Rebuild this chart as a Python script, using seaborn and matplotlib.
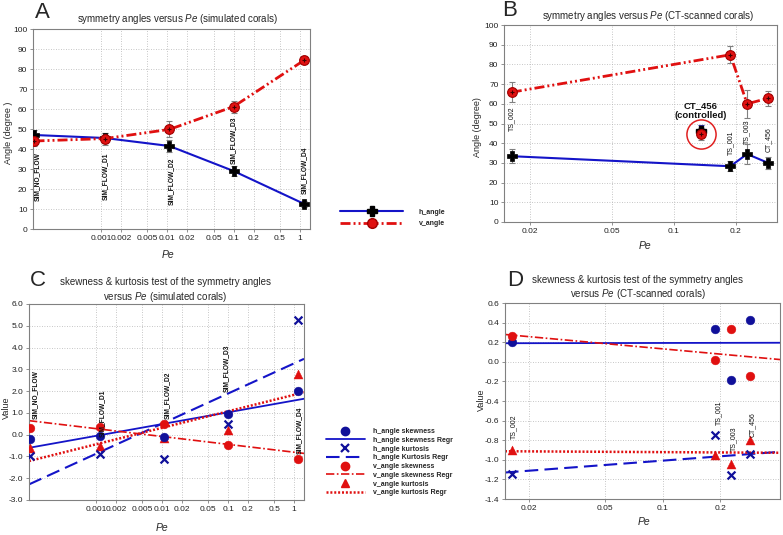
import numpy as np
import pandas as pd
import matplotlib
matplotlib.use("Agg")
import matplotlib.pyplot as plt
import seaborn as sns
from matplotlib.lines import Line2D
from matplotlib.ticker import NullLocator
from matplotlib.font_manager import FontProperties

# ---------------- data ----------------
sim_names = ["SIM_NO_FLOW", "SIM_FLOW_D1", "SIM_FLOW_D2", "SIM_FLOW_D3", "SIM_FLOW_D4"]
sim_pe = [0.0001, 0.00115, 0.0108, 0.1, 1.15]
sim_h_angle = [47.0, 45.5, 41.5, 29.0, 12.6]
sim_h_err = [2.5, 2.5, 3.0, 2.5, 1.5]
sim_v_angle = [44.0, 45.2, 49.8, 61.2, 84.3]
sim_v_err = [2.5, 3.0, 4.0, 3.0, 2.0]

ct_names = ["TS_002", "TS_001", "TS_003", "CT_456"]
ct_pe = [0.0163, 0.188, 0.227, 0.287]
ct_h_angle = [33.4, 28.3, 34.5, 30.0]
ct_h_err = [3.5, 2.5, 5.0, 3.2]
ct_v_angle = [65.9, 84.9, 60.0, 62.8]
ct_v_err = [5.0, 4.4, 7.0, 3.7]

ctrl_name = "CT_456\n(controlled)"
ctrl_pe = [0.1356]
ctrl_h_angle = [46.0]
ctrl_h_err = [3.0]
ctrl_v_angle = [44.5]
ctrl_v_err = [3.0]

sim_h_skew = [-0.21, -0.08, -0.12, 0.93, 2.00]
sim_h_kurt = [-0.96, -0.90, -1.13, 0.48, 5.27]
sim_v_skew = [0.29, 0.34, 0.48, -0.47, -1.12]
sim_v_kurt = [-0.63, -0.52, -0.15, 0.21, 2.79]

ct_h_skew = [0.20, 0.335, -0.19, 0.425]
ct_h_kurt = [-1.14, -0.75, -1.16, -0.94]
ct_v_skew = [0.26, 0.02, 0.335, -0.14]
ct_v_kurt = [-0.90, -0.95, -1.04, -0.80]

sim_ticks = [0.001, 0.002, 0.005, 0.01, 0.02, 0.05, 0.1, 0.2, 0.5, 1]
sim_tick_labels = ["0.001", "0.002", "0.005", "0.01", "0.02", "0.05", "0.1", "0.2", "0.5", "1"]
ct_ticks = [0.02, 0.05, 0.1, 0.2]
ct_tick_labels = ["0.02", "0.05", "0.1", "0.2"]
angle_ticks = list(range(0, 101, 10))
c_ticks = [-3, -2, -1, 0, 1, 2, 3, 4, 5, 6]
c_tick_labels = ["-3.0", "-2.0", "-1.0", "0.0", "1.0", "2.0", "3.0", "4.0", "5.0", "6.0"]
d_ticks = [-1.4, -1.2, -1.0, -0.8, -0.6, -0.4, -0.2, 0.0, 0.2, 0.4, 0.6]
d_tick_labels = ["-1.4", "-1.2", "-1.0", "-0.8", "-0.6", "-0.4", "-0.2", "0.0", "0.2", "0.4", "0.6"]

legendA_labels = ["h_angle", "v_angle"]
legendC_labels = ["h_angle skewness", "h_angle skewness Regr", "h_angle kurtosis",
                  "h_angle Kurtosis Regr", "v_angle skewness", "v_angle skewness Regr",
                  "v_angle kurtosis", "v_angle kurtosis Regr"]

# label placement (layout: top of rotated text, in data units)
labA_top = [38.6, 38.0, 35.5, 56.0, 41.0]
labA_dx = [3.0, 1.0, 2.0, 0.0, 0.3]
labB_top = [58.7, 46.5, 52.0, 48.0]
labC_top = [2.97, 2.05, 2.88, 4.12, 1.28]
labC_dx = [5.0, 2.0, 2.5, -1.5, 1.2]
labD_top = [-0.54, -0.39, -0.66, -0.51]

# ---------------- style ----------------
sns.set_theme(style="white")
plt.rcParams["font.family"] = ["Liberation Sans", "DejaVu Sans"]
plt.rcParams["mathtext.fontset"] = "custom"
plt.rcParams["mathtext.rm"] = "Liberation Sans"
plt.rcParams["mathtext.it"] = "Liberation Sans:italic"

BLUE = "#1414c8"
RED = "#e01010"
DRED = "#a00000"
DBLUE = "#10109a"
GRAY = "#808080"
TICK_FS = 6
DDOT = (0, (3.6, 1.1, 0.7, 1.1, 0.7, 1.1))

W, H = 783, 535
fig = plt.figure(figsize=(W / 100, H / 100), dpi=100)


def box(l, r, t, b):
    return [l / W, 1 - b / H, (r - l) / W, (b - t) / H]


axA = fig.add_axes(box(33, 310, 29, 229))
axB = fig.add_axes(box(504, 777, 25, 222))
axC = fig.add_axes(box(29, 304, 304, 500))
axD = fig.add_axes(box(505, 780, 303, 499))


def style_ax(ax, xlim, xt, xtl, ylim, yt, ytl):
    ax.set_xscale("log")
    ax.set_xlim(*xlim)
    ax.set_xticks(xt, xtl)
    ax.xaxis.set_minor_locator(NullLocator())
    ax.set_ylim(*ylim)
    ax.set_yticks(yt, ytl)
    for s in ax.spines.values():
        s.set_color(GRAY)
        s.set_linewidth(0.8)
    ax.tick_params(axis="both", which="major", labelsize=TICK_FS, length=2.5,
                   width=0.6, color=GRAY, pad=1.5, bottom=True, left=True,
                   labelcolor="#222222")
    ax.grid(True, which="major", color="#b4b4b4", linestyle=(0, (1, 2)), linewidth=0.6)
    ax.set_axisbelow(True)


style_ax(axA, (0.000095, 1.42), sim_ticks, sim_tick_labels, (0, 100), angle_ticks,
         [str(v) for v in angle_ticks])
style_ax(axB, (0.01494, 0.317), ct_ticks, ct_tick_labels, (0, 100), angle_ticks,
         [str(v) for v in angle_ticks])
style_ax(axC, (0.000095, 1.42), sim_ticks, sim_tick_labels, (-3, 6), c_ticks, c_tick_labels)
style_ax(axD, (0.0150, 0.41), ct_ticks, ct_tick_labels, (-1.4, 0.6), d_ticks, d_tick_labels)


def angle_panel(ax, pe, h, he, v, ve):
    ax.errorbar(pe, h, yerr=he, fmt="none", ecolor=GRAY, elinewidth=0.8,
                capsize=2.5, capthick=0.8, zorder=2)
    ax.errorbar(pe, v, yerr=ve, fmt="none", ecolor=GRAY, elinewidth=0.8,
                capsize=2.5, capthick=0.8, zorder=2)
    sns.lineplot(x=pe, y=h, ax=ax, color=BLUE, lw=1.5, marker="P", markersize=7.5,
                 markerfacecolor="black", markeredgecolor="black", markeredgewidth=0.5,
                 errorbar=None, zorder=3)
    sns.lineplot(x=pe, y=v, ax=ax, color=RED, lw=2, linestyle=DDOT, marker="o",
                 markersize=7, markerfacecolor=RED, markeredgecolor=DRED,
                 markeredgewidth=0.8, errorbar=None, zorder=4)
    ax.plot(pe, v, ls="none", marker="+", ms=3.5, mew=0.8, color="#400000", zorder=5)


angle_panel(axA, sim_pe, sim_h_angle, sim_h_err, sim_v_angle, sim_v_err)
angle_panel(axB, ct_pe, ct_h_angle, ct_h_err, ct_v_angle, ct_v_err)

# controlled coral in B
axB.errorbar(ctrl_pe, ctrl_h_angle, yerr=ctrl_h_err, fmt="none", ecolor="#3030a0",
             elinewidth=0.8, capsize=2.5, capthick=0.8, zorder=2)
axB.errorbar(ctrl_pe, ctrl_v_angle, yerr=ctrl_v_err, fmt="none", ecolor=GRAY,
             elinewidth=0.8, capsize=2.5, capthick=0.8, zorder=2)
axB.plot(ctrl_pe, ctrl_h_angle, ls="none", marker="P", ms=7.5, color="black", zorder=3)
axB.plot(ctrl_pe, ctrl_v_angle, ls="none", marker="o", ms=7, mfc=RED, mec=DRED,
         mew=0.8, zorder=4)
axB.plot(ctrl_pe, ctrl_v_angle, ls="none", marker="+", ms=3.5, mew=0.8,
         color="#400000", zorder=5)
axB.plot(ctrl_pe, ctrl_v_angle, ls="none", marker="o", ms=21, mfc="none",
         mec="#e02020", mew=1.1, zorder=5)
axB.text(ctrl_pe[0], 56.5, ctrl_name, ha="center", va="center", fontsize=6.8,
         fontweight="bold", linespacing=1.15, color="#111111")


def stat_panel(ax, pe, hs, hk, vs, vk):
    sns.regplot(x=pe, y=hs, ax=ax, scatter=False, logx=True, ci=None, truncate=False,
                color=BLUE, line_kws=dict(lw=1.3, ls="-", zorder=2))
    sns.regplot(x=pe, y=hk, ax=ax, scatter=False, logx=True, ci=None, truncate=False,
                color=BLUE, line_kws=dict(lw=1.5, ls=(0, (6.5, 3)), zorder=2))
    sns.regplot(x=pe, y=vs, ax=ax, scatter=False, logx=True, ci=None, truncate=False,
                color=RED, line_kws=dict(lw=1.2, ls=(0, (5, 1.5, 1, 1.5)), zorder=2))
    sns.regplot(x=pe, y=vk, ax=ax, scatter=False, logx=True, ci=None, truncate=False,
                color=RED, line_kws=dict(lw=1.8, ls=(0, (0.8, 0.75)), zorder=2))
    sns.scatterplot(x=pe, y=vk, ax=ax, marker="^", s=42, color=RED, edgecolor=RED,
                    linewidth=0.3, zorder=3)
    sns.scatterplot(x=pe, y=hs, ax=ax, marker="o", s=40, color=DBLUE, edgecolor=DBLUE,
                    linewidth=0.3, zorder=4)
    sns.scatterplot(x=pe, y=hk, ax=ax, marker="x", s=32, color=DBLUE, linewidth=1.6,
                    zorder=4)
    sns.scatterplot(x=pe, y=vs, ax=ax, marker="o", s=40, color=RED, edgecolor=RED,
                    linewidth=0.3, zorder=5)


stat_panel(axC, sim_pe, sim_h_skew, sim_h_kurt, sim_v_skew, sim_v_kurt)
stat_panel(axD, ct_pe, ct_h_skew, ct_h_kurt, ct_v_skew, ct_v_kurt)

# restore limits after regplot
axC.set_xlim(0.000095, 1.42)
axD.set_xlim(0.0150, 0.41)
axC.set_ylim(-3, 6)
axD.set_ylim(-1.4, 0.6)


# ---------------- point labels ----------------
def point_labels(ax, names, pe, tops, dxs, fs, weight):
    for n, x, t, dx in zip(names, pe, tops, dxs):
        ax.annotate(n, (x, t), xytext=(dx * 0.72, 0), textcoords="offset points",
                    rotation=90, ha="center", va="top", fontsize=fs,
                    fontweight=weight, color="#111111", zorder=6)


point_labels(axA, sim_names, sim_pe, labA_top, labA_dx, 4.8, "bold")
point_labels(axB, ct_names, ct_pe, labB_top, [0, 0, 0, 0], 5.0, "normal")
point_labels(axC, sim_names, sim_pe, labC_top, labC_dx, 4.8, "bold")
point_labels(axD, ct_names, ct_pe, labD_top, [2, 3, 3, 2], 5.0, "normal")

# ---------------- titles / labels ----------------
pe_it = r"$\it{Pe}$"
axA.text(0.52, 1.0 + 10.5 / 200, "symmetry angles versus " + pe_it + " (simulated corals)",
         transform=axA.transAxes, ha="center", va="center", fontsize=7)
axB.text(0.526, 1.0 + 9.3 / 197, "symmetry angles versus " + pe_it + " (CT-scanned corals)",
         transform=axB.transAxes, ha="center", va="center", fontsize=7)
axC.text(0.495, 1.0 + 13.5 / 196,
         "skewness & kurtosis test of the symmetry angles\nversus " + pe_it + " (simulated corals)",
         transform=axC.transAxes, ha="center", va="center", fontsize=7, linespacing=1.25)
axD.text(0.483, 1.0 + 15 / 196,
         "skewness & kurtosis test of the symmetry angles\nversus " + pe_it + " (CT-scanned corals)",
         transform=axD.transAxes, ha="center", va="center", fontsize=7, linespacing=1.25)

for (lx, ly, letter) in [(42.5, 12.5, "A"), (510, 10.7, "B"), (38, 280, "C"), (515, 281, "D")]:
    fig.text(lx / W, 1 - ly / H, letter, ha="center", va="center", fontsize=16)

for (lx, ly) in [(168, 255), (645, 246), (161.7, 528), (644, 522)]:
    fig.text(lx / W, 1 - ly / H, "Pe", ha="center", va="center", fontsize=7.5,
             style="italic")

for (lx, ly, txt) in [(8.5, 133, "Angle (degree )"), (477, 126.7, "Angle (degree)"),
                      (6.5, 408, "Value"), (481, 400, "Value")]:
    fig.text(lx / W, 1 - ly / H, txt, ha="center", va="center", fontsize=6.5,
             rotation=90)

# ---------------- legends ----------------
leg_font = FontProperties(family="Liberation Sans", weight="bold", size=5)
hA = [Line2D([0], [0], color=BLUE, lw=1.5, marker="P", ms=7.5, mfc="black", mec="black"),
      Line2D([0], [0], color=RED, lw=2, ls=DDOT, marker="o", ms=7, mfc=RED, mec=DRED)]
fig.legend(hA, legendA_labels, loc="center left",
           bbox_to_anchor=(340 / W, 1 - 217.9 / H), frameon=False, prop=leg_font,
           handlelength=9.1, handletextpad=2.2, labelspacing=0.62, borderpad=0,
           borderaxespad=0)

hC = [Line2D([0], [0], ls="none", marker="o", ms=6, color=DBLUE),
      Line2D([0], [0], color=BLUE, lw=1.3),
      Line2D([0], [0], ls="none", marker="x", ms=5.5, mew=1.6, color=DBLUE),
      Line2D([0], [0], color=BLUE, lw=1.5, ls=(0, (6.5, 3))),
      Line2D([0], [0], ls="none", marker="o", ms=6, color=RED),
      Line2D([0], [0], color=RED, lw=1.2, ls=(0, (5, 1.5, 1, 1.5))),
      Line2D([0], [0], ls="none", marker="^", ms=6, color=RED),
      Line2D([0], [0], color=RED, lw=1.8, ls=(0, (0.8, 0.75)))]
fig.legend(hC, legendC_labels, loc="center left",
           bbox_to_anchor=(326 / W, 1 - 462.2 / H), frameon=False, prop=leg_font,
           handlelength=5.6, handletextpad=1.15, labelspacing=0.25, borderpad=0,
           borderaxespad=0)

fig.savefig("out.png", dpi=100)
